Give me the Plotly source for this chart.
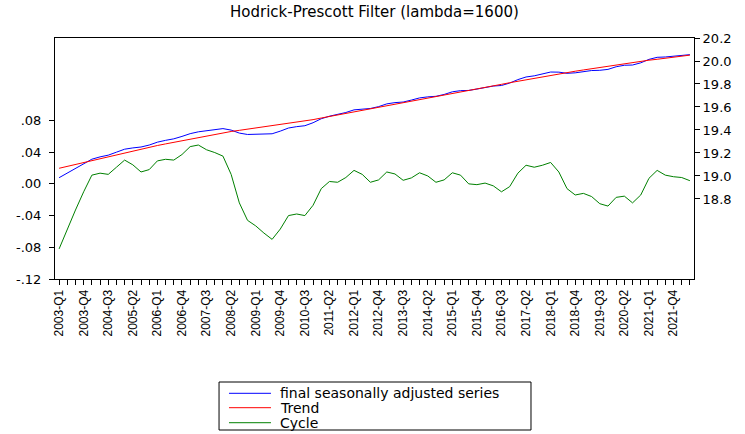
import plotly.graph_objects as go

quarters = [f"{2003 + i // 4}-Q{i % 4 + 1}" for i in range(78)]

trend = [19.067, 19.084, 19.101, 19.118, 19.135, 19.152, 19.169, 19.186, 19.203, 19.220,
         19.237, 19.251, 19.265, 19.279, 19.293, 19.307, 19.321, 19.335, 19.349, 19.363,
         19.377, 19.387, 19.397, 19.407, 19.417, 19.427, 19.437, 19.447, 19.457, 19.467,
         19.477, 19.490, 19.504, 19.517, 19.531, 19.544, 19.558, 19.571, 19.585, 19.598,
         19.612, 19.625, 19.638, 19.652, 19.665, 19.678, 19.691, 19.704, 19.718, 19.731,
         19.744, 19.757, 19.771, 19.784, 19.797, 19.811, 19.824, 19.837, 19.850, 19.864,
         19.877, 19.888, 19.899, 19.911, 19.922, 19.933, 19.944, 19.955, 19.967, 19.978,
         19.989, 19.998, 20.007, 20.015, 20.024, 20.033, 20.042, 20.051]

cycle = [-0.082, -0.057, -0.033, -0.010, 0.011, 0.0135, 0.012, 0.021, 0.030, 0.024,
         0.015, 0.018, 0.029, 0.031, 0.030, 0.037, 0.047, 0.049, 0.043, 0.0395,
         0.035, 0.012, -0.024, -0.046, -0.053, -0.062, -0.070, -0.057, -0.040, -0.038,
         -0.040, -0.027, -0.006, 0.003, 0.002, 0.008, 0.017, 0.012, 0.002, 0.005,
         0.015, 0.0125, 0.0045, 0.0075, 0.014, 0.010, 0.002, 0.005, 0.014, 0.011,
         0.000, -0.001, 0.001, -0.0025, -0.010, -0.0035, 0.0135, 0.0235, 0.021, 0.0235,
         0.027, 0.015, -0.006, -0.014, -0.012, -0.016, -0.025, -0.028, -0.017, -0.0155,
         -0.024, -0.014, 0.007, 0.017, 0.011, 0.009, 0.008, 0.004]

series = [18.985, 19.027, 19.068, 19.108, 19.146, 19.166, 19.181, 19.207, 19.233, 19.244,
          19.252, 19.269, 19.294, 19.310, 19.323, 19.344, 19.368, 19.384, 19.392, 19.403,
          19.412, 19.399, 19.373, 19.361, 19.364, 19.365, 19.367, 19.390, 19.417, 19.429,
          19.437, 19.463, 19.498, 19.520, 19.533, 19.552, 19.575, 19.583, 19.587, 19.603,
          19.627, 19.638, 19.643, 19.660, 19.679, 19.688, 19.693, 19.709, 19.732, 19.742,
          19.744, 19.756, 19.772, 19.782, 19.787, 19.808, 19.838, 19.861, 19.871, 19.888,
          19.904, 19.903, 19.893, 19.897, 19.910, 19.917, 19.919, 19.927, 19.950, 19.963,
          19.965, 19.984, 20.014, 20.032, 20.035, 20.042, 20.050, 20.055]

series_names = ["final seasonally adjusted series", "Trend", "Cycle"]
series_colors = ["rgb(0,0,255)", "rgb(255,0,0)", "rgb(0,128,0)"]

left_ticks = [-0.12, -0.08, -0.04, 0.0, 0.04, 0.08]
left_labels = ["-.12", "-.08", "-.04", ".00", ".04", ".08"]
right_ticks = [18.8, 19.0, 19.2, 19.4, 19.6, 19.8, 20.0, 20.2]
right_labels = ["18.8", "19.0", "19.2", "19.4", "19.6", "19.8", "20.0", "20.2"]

x = list(range(len(quarters)))
xt_text = [q if i % 3 == 0 else "" for i, q in enumerate(quarters)]

arial = "Liberation Sans, Arial, sans-serif"
wide = "DejaVu Sans, Verdana, sans-serif"

fig = go.Figure()
fig.add_trace(go.Scatter(x=x, y=series, name=series_names[0], mode="lines",
                         line=dict(color=series_colors[0], width=1), yaxis="y2"))
fig.add_trace(go.Scatter(x=x, y=trend, name=series_names[1], mode="lines",
                         line=dict(color=series_colors[1], width=1), yaxis="y2"))
fig.add_trace(go.Scatter(x=x, y=cycle, name=series_names[2], mode="lines",
                         line=dict(color=series_colors[2], width=1), yaxis="y"))

# Legend box drawn in paper coordinates (EViews-style compact legend)
fig.add_shape(type="rect", xref="paper", yref="paper",
              x0=0.2567, x1=0.7449, y0=-0.6266, y1=-0.4274,
              line=dict(color="black", width=1), fillcolor="white", layer="above")
leg_y = [-0.4743, -0.5340, -0.5963]
for name, color, yy in zip(series_names, series_colors, leg_y):
    fig.add_shape(type="line", xref="paper", yref="paper",
                  x0=0.2723, x1=0.3380, y0=yy, y1=yy,
                  line=dict(color=color, width=1), layer="above")
    fig.add_annotation(xref="paper", yref="paper", x=0.349, y=yy, text=name,
                       showarrow=False, xanchor="left", yanchor="middle",
                       font=dict(family=wide, size=14, color="black"))

fig.update_layout(
    width=745, height=434,
    margin=dict(l=55, r=51, t=38, b=155, autoexpand=False),
    paper_bgcolor="white", plot_bgcolor="white",
    font=dict(family=arial, color="black", size=12),
    title=dict(text="Hodrick-Prescott Filter (lambda=1600)", x=0.5026, xanchor="center",
               y=0.972, yanchor="middle", font=dict(size=15, family=wide)),
    showlegend=False,
    hovermode=False,
    xaxis=dict(range=[-0.5, 77.5], tickmode="array", tickvals=x, ticktext=xt_text,
               tickangle=-90, ticks="outside", ticklen=5, tickcolor="black",
               showline=True, linecolor="black", linewidth=1, mirror=True,
               showgrid=False, zeroline=False, automargin=False,
               tickfont=dict(size=12, family=arial)),
    yaxis=dict(range=[-0.12, 0.184], tickmode="array", tickvals=left_ticks,
               ticktext=left_labels, ticks="outside", ticklen=5, tickcolor="black",
               showline=True, linecolor="black", linewidth=1, automargin=False,
               ticklabelstandoff=5,
               showgrid=False, zeroline=False, tickfont=dict(size=13, family=wide)),
    yaxis2=dict(range=[18.104, 20.2], overlaying="y", side="right", tickmode="array",
                tickvals=right_ticks, ticktext=right_labels, ticks="outside", ticklen=5,
                tickcolor="black", showline=True, linecolor="black", linewidth=1,
                automargin=False, showgrid=False, zeroline=False,
                tickfont=dict(size=13, family=wide)),
)

fig.write_html("out.html", config={"displayModeBar": False},
               post_script="document.body.style.margin='0';document.body.style.padding='0';")
